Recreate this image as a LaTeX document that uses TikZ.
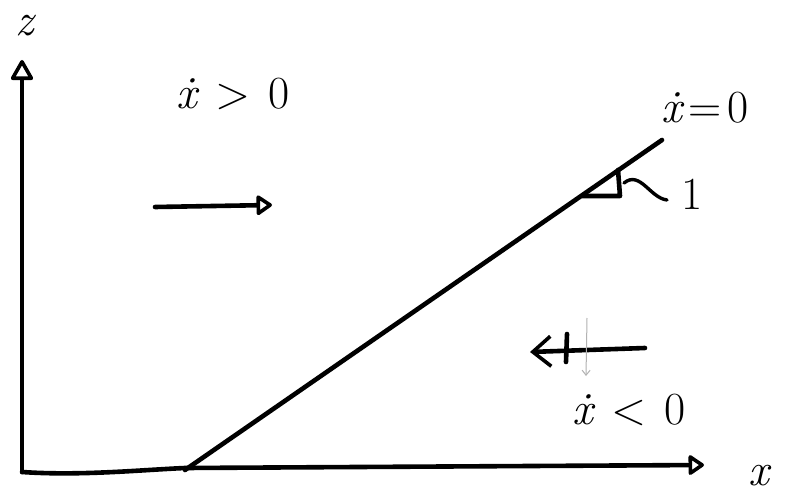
\documentclass[tikz,border=0pt]{standalone}
\usetikzlibrary{arrows.meta}
\begin{document}
\begin{tikzpicture}[x=1pt,y=-1pt,
  ink/.style={line width=4.6pt,line cap=round,line join=round,black},
  lbl/.style={font=\fontsize{46}{50}\selectfont,inner sep=0pt},
  openhead/.style={-{Triangle[open,round,length=22pt,width=24pt,line width=3.6pt]}},
  dhead/.style={-{Triangle[open,round,length=17pt,width=22pt,line width=3.6pt]}},
  barbhead/.style={-{Straight Barb[length=18pt,width=30pt,line width=3.6pt]}}]
\useasboundingbox (0,0) rectangle (785,500);
\fill[white] (0,0) rectangle (785,500);
% axes
\coordinate (O) at (22,472);
\coordinate (ztip) at (22,60);
\coordinate (xtip) at (704,465);
\draw[ink,openhead] (O) -- (ztip);
\draw[ink,dhead] (O) .. controls (80,476) and (140,470) .. (185,468) -- (xtip);
\node[lbl] (zl) at (26,26) {\textit{z}};
\node[lbl] (xl) at (760,476) {\textit{x}};
% diagonal line
\coordinate (d0) at (185,470);
\coordinate (d1) at (662,140);
\draw[ink] (d0) -- (d1);
% right-angle marker
\coordinate (r0) at (582,196);
\coordinate (r1) at (620,196);
\coordinate (r2) at (618,170);
\draw[ink] (r0) -- (r1) -- (r2);
\coordinate (t0) at (624,183);
\coordinate (t1) at (667,200);
\draw[ink,line width=3.4pt] (t0) .. controls (640,170) and (650,198) .. (t1);
\node[lbl] (one) at (692,194) {1};
% labels
\node[lbl] (xpos) at (233,94) {\textit{\.x}\hspace{18pt}>\hspace{18pt}0};
\node[lbl] (xzero) at (705,108) {\textit{\.x}\hspace{6pt}=\hspace{6pt}0};
\node[lbl] (xneg) at (629,410) {\textit{\.x}\hspace{18pt}<\hspace{18pt}0};
% right arrow
\coordinate (ra0) at (155,207);
\coordinate (ra1) at (272,205);
\draw[ink,dhead] (ra0) -- (ra1);
% left arrow
\coordinate (la0) at (645,348);
\coordinate (la1) at (530,352);
\draw[ink,barbhead] (la0) -- (la1);
\coordinate (tk0) at (567,334);
\coordinate (tk1) at (566,362);
\draw[ink] (tk0) -- (tk1);
\coordinate (fd0) at (587,318);
\coordinate (fd1) at (586,376);
\draw[gray!60,line width=1pt,-{Straight Barb[length=5pt,width=8pt]}] (fd0) -- (fd1);
\end{tikzpicture}
\end{document}
